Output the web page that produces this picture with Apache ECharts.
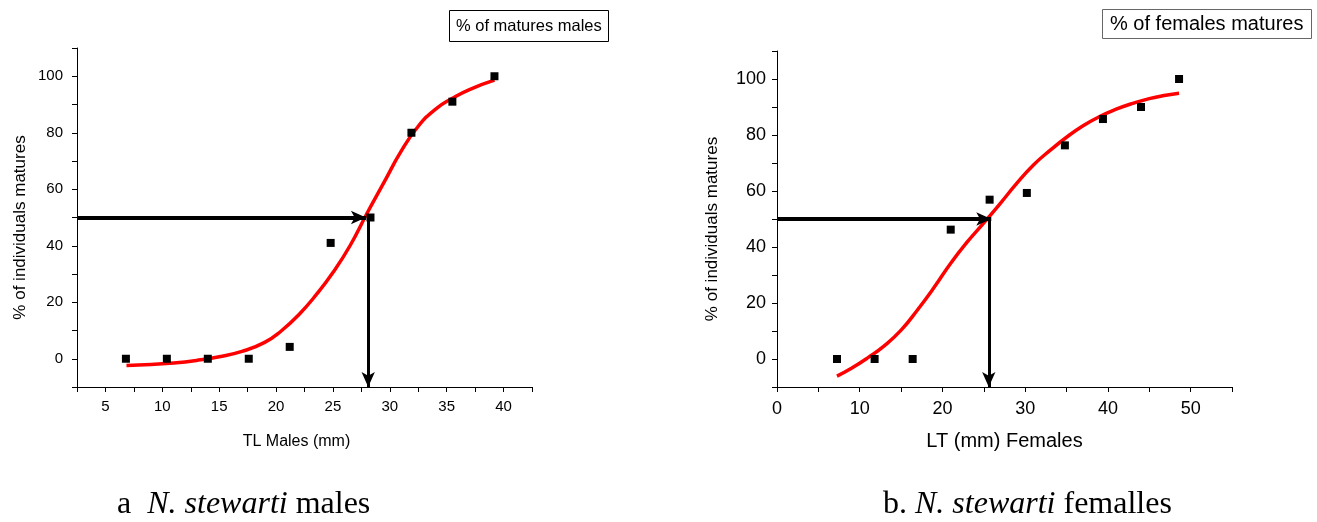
<!DOCTYPE html>
<html>
<head>
<meta charset="utf-8">
<script src="https://cdn.jsdelivr.net/npm/echarts@6/dist/echarts.min.js"></script>
<style>
  html, body { margin: 0; padding: 0; background: #fff; }
  #chart { width: 1317px; height: 522px; }
</style>
</head>
<body>
<div id="chart"></div>
<script>
// ---- Data ----
// a: males
const maleLengths = [6.8, 10.4, 14.0, 17.6, 21.2, 24.8, 28.3, 31.9, 35.5, 39.2];
const malePercent = [0, 0, 0, 0, 4.2, 41, 50, 80, 91, 100];
const maleFitLengths = [6.85, 9, 11, 13, 15, 17, 19, 20.5, 22, 23.5, 25, 26.5, 28, 29.5, 31, 32.5, 34, 35.5, 37, 39.2];
const maleFitPercent = [-2.4, -2.0, -1.5, -0.6, 0.7, 2.6, 5.8, 10.0, 15.6, 22.5, 30.5, 40, 51.5, 62.5, 73.5, 82.3, 88.3, 92.2, 95.3, 98.6];
const maleL50 = { percent: 50, arrowTip: 27.9, length: 28.1 };

// b: females
const femaleLengths = [7.25, 11.8, 16.4, 21.0, 25.7, 30.2, 34.8, 39.4, 44.0, 48.6];
const femalePercent = [0, 0, 0, 46.2, 56.9, 59.3, 76.3, 85.7, 90.0, 100];
const femaleFitLengths = [7.25, 9, 11, 13, 15, 17, 19, 21, 23, 25, 27, 29, 31, 33, 35, 37, 39, 41, 43, 45, 47, 48.6];
const femaleFitPercent = [-6.1, -3.3, 0.5, 4.8, 10.3, 17.6, 25.6, 34.2, 41.8, 48.6, 55.6, 62.8, 69.3, 74.5, 79.2, 83.3, 86.6, 89.2, 91.3, 93, 94.2, 94.9];
const femaleL50 = { percent: 50, arrowTip: 25.9, length: 25.6 };

// axes
const maleXRange = [2.5, 42.5, 2.5];   // min, max, tick step
const femaleXRange = [0, 55, 5];
const percentRange = [-10, 110, 10];

// texts
const maleXTitle = 'TL Males (mm)';
const femaleXTitle = 'LT (mm) Females';
const yTitle = '% of individuals matures';
const maleLegend = '% of matures males';
const femaleLegend = '% of females matures';

// ---- Build chart ----
const zip = (xs, ys) => xs.map((x, i) => [x, ys[i]]);
const SANS = '"Liberation Sans", Arial, sans-serif';
const SERIF = '"Liberation Serif", "Times New Roman", serif';

function xAxisOf(grid, range, labelEvery, name, fontSize, nameFont, nameGap, margin, namePad) {
  return {
    gridIndex: grid, type: 'value', min: range[0], max: range[1], interval: range[2],
    axisLine: { onZero: false, lineStyle: { color: '#000', width: 1 } },
    axisTick: { length: 5, lineStyle: { color: '#000' } },
    axisLabel: {
      margin: margin, fontSize: fontSize, fontFamily: SANS, color: '#000',
      showMinLabel: true, showMaxLabel: true,
      formatter: v => (Math.abs(v % labelEvery) < 1e-9 ? String(v) : '')
    },
    splitLine: { show: false },
    name: name, nameLocation: 'middle', nameGap: nameGap,
    nameTextStyle: { fontSize: nameFont, fontFamily: SANS, color: '#000', padding: namePad }
  };
}
function yAxisOf(grid, fontSize, nameFont, nameGap, margin) {
  return {
    gridIndex: grid, type: 'value', min: percentRange[0], max: percentRange[1], interval: percentRange[2],
    axisLine: { show: true, onZero: false, lineStyle: { color: '#000', width: 1 } },
    axisTick: { show: true, length: 5, lineStyle: { color: '#000' } },
    axisLabel: {
      margin: margin, fontSize: fontSize, fontFamily: SANS, color: '#000',
      showMinLabel: true, showMaxLabel: true,
      formatter: v => (v >= 0 && v <= 100 && v % 20 === 0 ? String(v) : '')
    },
    splitLine: { show: false },
    name: yTitle, nameLocation: 'middle', nameRotate: 90, nameGap: nameGap,
    nameTextStyle: { fontSize: nameFont, fontFamily: SANS, color: '#000', padding: [0, 20, 0, 0] }
  };
}
function arrows(xStart, l50) {
  return {
    silent: true,
    symbol: ['none', 'arrow'],
    symbolSize: [10, 15],
    label: { show: false },
    emphasis: { disabled: true },
    lineStyle: { color: '#000', width: 4, type: 'solid' },
    data: [
      [{ coord: [xStart, l50.percent] }, { coord: [l50.arrowTip, l50.percent] }],
      [{ coord: [l50.length, l50.percent], lineStyle: { width: 3, color: '#000', type: 'solid' } },
       { coord: [l50.length, percentRange[0]], lineStyle: { width: 3, color: '#000', type: 'solid' } }]
    ]
  };
}
function caption(text, left) {
  const base = { fontSize: 32, lineHeight: 34, fontFamily: SERIF, fontWeight: 'normal', color: '#000' };
  return {
    text: text, left: left, top: 488, padding: 0,
    textStyle: { fontWeight: 'normal', rich: { n: base, i: Object.assign({}, base, { fontStyle: 'italic' }) } }
  };
}

const option = {
  animation: false,
  backgroundColor: '#fff',
  grid: [
    { left: 77, top: 48, width: 455, height: 339 },
    { left: 777, top: 51, width: 455, height: 336 }
  ],
  xAxis: [
    xAxisOf(0, maleXRange, 5, maleXTitle, 15, 16, 47, 12, [0, 16, 0, 0]),
    xAxisOf(1, femaleXRange, 10, femaleXTitle, 18, 20, 44, 13, [0, 0, 0, 0])
  ],
  yAxis: [
    yAxisOf(0, 15, 17, 48, 14),
    yAxisOf(1, 18, 17, 56, 11)
  ],
  title: [
    { text: maleLegend, left: 449, top: 11, borderColor: '#000', borderWidth: 1, padding: [7, 7],
      textStyle: { fontSize: 16.5, lineHeight: 16, fontWeight: 'normal', fontFamily: SANS, color: '#000' } },
    { text: femaleLegend, left: 1102, top: 9, borderColor: '#666', borderWidth: 1, padding: [5, 8],
      textStyle: { fontSize: 20, lineHeight: 20, fontWeight: 'normal', fontFamily: SANS, color: '#000' } },
    caption('{n|a  }{i|N. stewarti}{n| males}', 117),
    caption('{n|b. }{i|N. stewarti}{n| femalles}', 883)
  ],
  series: [
    { type: 'scatter', xAxisIndex: 0, yAxisIndex: 0, symbol: 'rect', symbolSize: 8,
      itemStyle: { color: '#000', opacity: 1 }, data: zip(maleLengths, malePercent), z: 3,
      markLine: arrows(maleXRange[0], maleL50) },
    { type: 'line', xAxisIndex: 0, yAxisIndex: 0, smooth: 0.5, showSymbol: false, symbol: 'none',
      lineStyle: { color: '#ff0000', width: 3.5 }, data: zip(maleFitLengths, maleFitPercent), z: 2 },
    { type: 'scatter', xAxisIndex: 1, yAxisIndex: 1, symbol: 'rect', symbolSize: 8,
      itemStyle: { color: '#000', opacity: 1 }, data: zip(femaleLengths, femalePercent), z: 3,
      markLine: arrows(femaleXRange[0], femaleL50) },
    { type: 'line', xAxisIndex: 1, yAxisIndex: 1, smooth: 0.5, showSymbol: false, symbol: 'none',
      lineStyle: { color: '#ff0000', width: 3.5 }, data: zip(femaleFitLengths, femaleFitPercent), z: 2 }
  ]
};

const chart = echarts.init(document.getElementById('chart'), null, { renderer: 'canvas' });
chart.setOption(option);
</script>
</body>
</html>
